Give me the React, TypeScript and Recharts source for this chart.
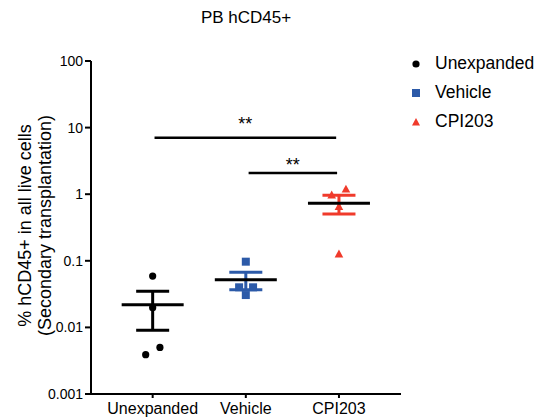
import React from 'react';
import { ScatterChart, Scatter, XAxis, YAxis, ErrorBar, ReferenceLine } from 'recharts';

const FONT = '"Liberation Sans", Arial, Helvetica, sans-serif';

// category names and colours
const groups = ['Unexpanded', 'Vehicle', 'CPI203'];
const colors = ['#000000', '#2c5aa8', '#f03a2b'];

// column scatter: x position (with jitter) and % hCD45+
const unexpandedX = [1, 1, 1.078, 0.925];
const unexpandedY = [0.059, 0.0198, 0.005, 0.0039];
const vehicleX = [2, 1.928, 2.078, 2];
const vehicleY = [0.097, 0.04, 0.04, 0.0306];
const cpiX = [3.075, 2.922, 3, 3];
const cpiY = [1.19, 0.97, 0.65, 0.126];

const yTicks = [0.001, 0.01, 0.1, 1, 10, 100];

// significance brackets
const sigFrom = [1.02, 2.03];
const sigTo = [2.97, 2.98];
const sigY = [7.05, 2.08];
const sigText = ['**', '**'];
const sigGap = [8, 2.5];

const seriesX = [unexpandedX, vehicleX, cpiX];
const seriesY = [unexpandedY, vehicleY, cpiY];

const toPoints = (xs: number[], ys: number[]) => xs.map((x, i) => ({ x, y: ys[i] }));

const meanSem = (ys: number[]) => {
  const m = ys.reduce((a, b) => a + b, 0) / ys.length;
  const sd = Math.sqrt(ys.reduce((a, b) => a + (b - m) * (b - m), 0) / (ys.length - 1));
  return { m, sem: sd / Math.sqrt(ys.length) };
};

const Dot = (p: any) => <circle cx={p.cx} cy={p.cy} r={3.6} fill={colors[0]} />;
const Sq = (p: any) => <rect x={p.cx - 4} y={p.cy - 4} width={8} height={8} fill={colors[1]} />;
const Tri = (p: any) => (
  <polygon
    points={`${p.cx},${p.cy - 4.5} ${p.cx + 4.3},${p.cy + 3.3} ${p.cx - 4.3},${p.cy + 3.3}`}
    fill={colors[2]}
  />
);
const shapes = [Dot, Sq, Tri];

const MeanLine = (p: any) => (
  <line x1={p.cx - 31} x2={p.cx + 31} y1={p.cy} y2={p.cy} stroke="#000" strokeWidth={3} />
);

const YLabel = (props: any) => {
  const { viewBox } = props;
  const cy = viewBox.y + viewBox.height / 2 - 2;
  return (
    <g style={{ fontFamily: FONT, fontSize: 18 }} fill="#000">
      <text x={0} y={0} textAnchor="middle" transform={`translate(31, ${cy}) rotate(-90)`}>
        % hCD45+ in all live cells
      </text>
      <text x={0} y={0} textAnchor="middle" transform={`translate(51, ${cy}) rotate(-90)`}>
        (Secondary transplantation)
      </text>
    </g>
  );
};

const LegendMark = ({ i }: { i: number }) => (
  <svg width={10} height={10} style={{ display: 'block' }}>
    {i === 0 && <circle cx={5} cy={5} r={3.6} fill={colors[0]} />}
    {i === 1 && <rect x={1} y={1} width={8} height={8} fill={colors[1]} />}
    {i === 2 && <polygon points="5,1 9,8.5 1,8.5" fill={colors[2]} />}
  </svg>
);

export default function App() {
  return (
    <div style={{ position: 'absolute', left: 0, top: 0, width: 549, height: 418, background: '#fff' }}>
      <div
        style={{
          position: 'absolute', left: 0, width: 492, top: 8, textAlign: 'center',
          fontFamily: FONT, fontSize: 17, color: '#000',
        }}
      >
        PB hCD45+
      </div>
      <ScatterChart width={549} height={418} margin={{ top: 61, right: 148, bottom: 0, left: 0 }}>
        <XAxis
          type="number"
          dataKey="x"
          domain={[0.338, 3.666]}
          ticks={[1, 2, 3]}
          tickFormatter={(v: number) => groups[v - 1]}
          height={24}
          stroke="#000"
          strokeWidth={2}
          tickSize={4}
          tickMargin={5}
          tick={{ fill: '#000', fontSize: 16, fontFamily: FONT }}
          allowDataOverflow
        />
        <YAxis
          type="number"
          dataKey="y"
          scale="log"
          domain={[0.001, 100]}
          ticks={yTicks}
          tickFormatter={(v: number) => String(v)}
          width={91}
          stroke="#000"
          strokeWidth={2}
          tickSize={6}
          tickMargin={2}
          tick={{ fill: '#000', fontSize: 14, fontFamily: FONT }}
          allowDataOverflow
          label={{ content: <YLabel /> }}
        />
        {seriesX.map((xs, i) => (
          <Scatter
            key={groups[i]}
            name={groups[i]}
            data={toPoints(xs, seriesY[i])}
            shape={shapes[i]}
            isAnimationActive={false}
          />
        ))}
        {seriesY.map((ys, i) => {
          const { m, sem } = meanSem(ys);
          return (
            <Scatter
              key={'mean-' + groups[i]}
              data={[{ x: i + 1, y: m, err: [sem, sem] }]}
              shape={MeanLine}
              isAnimationActive={false}
              legendType="none"
            >
              <ErrorBar dataKey="err" direction="y" width={16.5} stroke={colors[i]} strokeWidth={3} />
            </Scatter>
          );
        })}
        {sigY.map((y, i) => (
          <ReferenceLine
            key={'sig' + i}
            segment={[{ x: sigFrom[i], y }, { x: sigTo[i], y }]}
            stroke="#000"
            strokeWidth={2.5}
            label={{ value: sigText[i], position: 'top', offset: sigGap[i], fill: '#000', fontSize: 18, fontFamily: FONT }}
          />
        ))}
      </ScatterChart>
      <div style={{ position: 'absolute', left: 411, top: 49, fontFamily: FONT, fontSize: 17.5, color: '#000' }}>
        {groups.map((g, i) => (
          <div key={g} style={{ display: 'flex', alignItems: 'center', height: 29 }}>
            <LegendMark i={i} />
            <span style={{ marginLeft: 14 }}>{g}</span>
          </div>
        ))}
      </div>
    </div>
  );
}
